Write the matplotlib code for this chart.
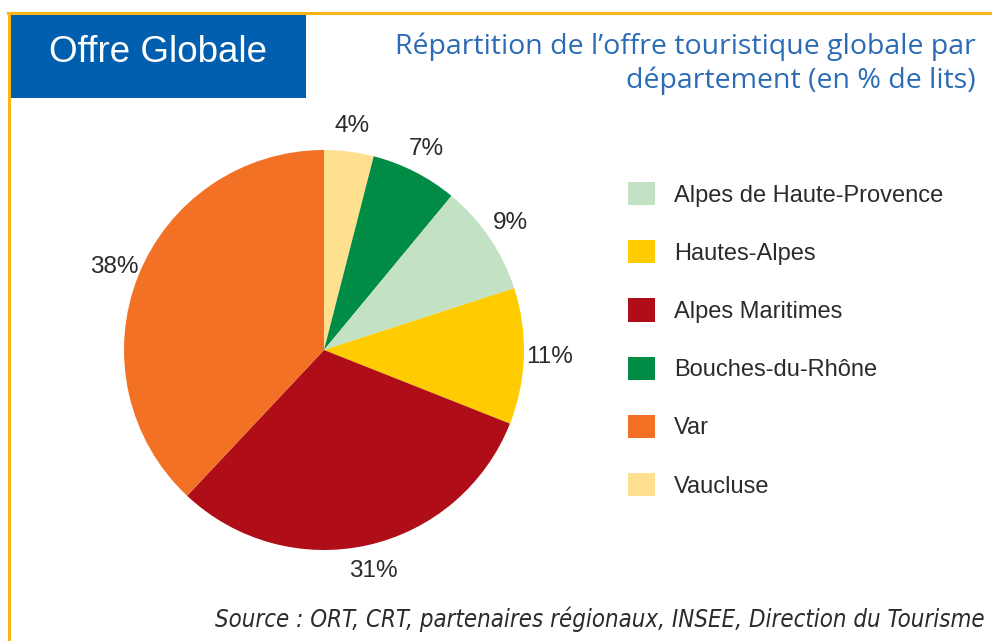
import matplotlib
matplotlib.use("Agg")
import matplotlib.pyplot as plt
from matplotlib.patches import Rectangle
from matplotlib.lines import Line2D

# legend order
departements = [
    "Alpes de Haute-Provence",
    "Hautes-Alpes",
    "Alpes Maritimes",
    "Bouches-du-Rhône",
    "Var",
    "Vaucluse",
]
part_lits = [9, 11, 31, 7, 38, 4]
couleurs = ["#C3E2C4", "#FECC00", "#AF0E19", "#008C45", "#F37124", "#FEE08F"]

titre_box = "Offre Globale"
titre_l1 = "Répartition de l’offre touristique globale par"
titre_l2 = "département (en % de lits)"
source = "Source : ORT, CRT, partenaires régionaux, INSEE, Direction du Tourisme"

W, H = 992, 641
fig = plt.figure(figsize=(W / 100, H / 100), dpi=100)
fig.patch.set_facecolor("white")

# frame lines (top + left)
frame_col = "#FBB516"
fig.add_artist(Line2D([8 / W, 1], [1 - 12.5 / H, 1 - 12.5 / H], color=frame_col, lw=2.2,
                      transform=fig.transFigure))
fig.add_artist(Line2D([9 / W, 9 / W], [0, 1 - 12.5 / H], color=frame_col, lw=2.2,
                      transform=fig.transFigure))

# blue title box
fig.add_artist(Rectangle((10 / W, 1 - 98 / H), 296 / W, 85 / H, facecolor="#005EAE",
                         edgecolor="none", transform=fig.transFigure))
fig.text(158 / W, 1 - 53 / H, titre_box, color="white", fontsize=26.5,
         family="Liberation Sans", ha="center", va="center")

fig.text(976 / W, 1 - 54 / H, titre_l1, color="#2C6BB5", fontsize=20.5, family="Open Sans",
         ha="right", va="baseline")
fig.text(976 / W, 1 - 88 / H, titre_l2, color="#2C6BB5", fontsize=20.5, family="Open Sans",
         ha="right", va="baseline")

# pie, sorted ascending clockwise from the top
ordre = sorted(range(len(part_lits)), key=lambda i: part_lits[i])
ax = fig.add_axes([124 / W, 1 - 550 / H, 400 / W, 400 / H])
wedges, textes = ax.pie(
    [part_lits[i] for i in ordre],
    colors=[couleurs[i] for i in ordre],
    labels=[f"{part_lits[i]}%" for i in ordre],
    startangle=90,
    counterclock=False,
    labeldistance=1.13,
    wedgeprops=dict(linewidth=0),
    textprops=dict(fontsize=17.5, color="#2B2B2B", family="Liberation Sans"),
)
for t in textes:
    t.set_ha("center")
    t.set_va("center")
ax.set_xlim(-1, 1)
ax.set_ylim(-1, 1)

handles = [wedges[ordre.index(i)] for i in range(len(departements))]
fig.legend(
    handles, departements,
    loc="upper left", bbox_to_anchor=(628 / W, 1 - 182 / H),
    frameon=False, handlelength=1.14, handleheight=1.14,
    handletextpad=0.8, labelspacing=1.42, borderpad=0, borderaxespad=0,
    prop=dict(family="Liberation Sans", size=17),
    labelcolor="#2B2B2B",
)

fig.text(985 / W, 1 - 627 / H, source, color="#2B2B2B", fontsize=17.2,
         family="DejaVu Sans", fontstretch="condensed", style="italic",
         ha="right", va="baseline")

fig.savefig("out.png", dpi=100)
